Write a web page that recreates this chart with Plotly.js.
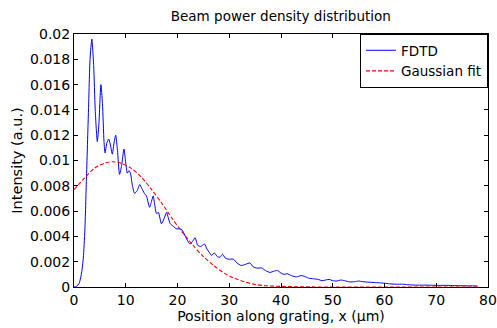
<!DOCTYPE html>
<html>
<head>
<meta charset="utf-8">
<script src="https://cdn.plot.ly/plotly-3.0.1.min.js"></script>
<style>
html,body{margin:0;padding:0;background:#fff;}
#chart{width:497px;height:328px;}
</style>
</head>
<body>
<div id="chart"></div>
<script>
// FDTD simulated beam power density
const fdtdX = [0,0.5,1.0,1.5,1.8,2.1,2.4,2.8,3.1,3.45,3.8,4.1,4.5,4.8,5.2,5.5,5.8,6.0,6.35,6.7,7.0,7.4,7.7,8.05,8.4,8.8,9.2,9.65,10.0,10.3,10.6,10.9,11.3,11.7,12.2,12.7,13.1,13.6,14.0,14.6,15.0,15.3,15.6,15.95,16.3,16.9,17.4,17.9,18.2,18.6,19.2,19.8,20.4,20.9,21.4,21.9,22.4,22.9,23.4,23.9,24.5,25.2,25.7,26.2,26.6,27.1,27.7,28.2,28.7,29.2,29.8,30.3,30.8,31.5,32.3,33.2,34.0,34.6,35.3,36.3,37.0,37.9,38.6,39.3,40.0,40.6,41.2,42.0,43.0,43.8,44.5,45.3,46.3,47.2,47.9,48.6,49.3,50.0,50.8,51.5,52.3,53.3,54.2,55.0,55.8,57.0,58.0,59.0,60.0,61.0,62.3,63.5,64.5,66.0,67.5,69.0,70.5,72.0,73.5,75.0,76.5,78.0];
const fdtdY = [0,0.00005,0.0003,0.0012,0.0023,0.0045,0.0085,0.0140,0.0180,0.0196,0.0175,0.0140,0.0115,0.0128,0.0160,0.0145,0.0115,0.0106,0.0114,0.0117,0.0113,0.0105,0.0113,0.0120,0.0108,0.0089,0.0096,0.0109,0.0098,0.0090,0.0092,0.0090,0.0080,0.0074,0.0076,0.0081,0.0078,0.0074,0.0072,0.0063,0.0068,0.0072,0.0065,0.0058,0.0059,0.0050,0.0054,0.0059,0.0055,0.0050,0.0048,0.0046,0.0046,0.0045,0.0041,0.0037,0.0034,0.0036,0.0039,0.0033,0.0032,0.0034,0.0030,0.0027,0.0025,0.0027,0.0024,0.00235,0.0026,0.0023,0.0022,0.0022,0.0022,0.0019,0.0017,0.0018,0.0019,0.0016,0.0015,0.0015,0.0013,0.00115,0.00125,0.0013,0.0011,0.0010,0.00105,0.0009,0.0008,0.0009,0.00085,0.0007,0.00065,0.0006,0.0005,0.00055,0.0006,0.0005,0.00047,0.00055,0.0005,0.0004,0.00042,0.00047,0.00042,0.00038,0.00035,0.00033,0.0003,0.00025,0.00022,0.00022,0.00018,0.00015,0.00015,0.00014,0.00013,0.00013,0.00011,0.0001,0.00009,0.00008];

// Gaussian fit
const fitX = [0,2,4,6,7.5,9,11,13,15,17,19,21,23,25,27,29,31,33,35,37,40,45,50,60,70,78];
const fitY = [0.0077,0.0086,0.0094,0.0098,0.0099,0.0098,0.0094,0.0087,0.0077,0.0066,0.0054,0.0043,0.0033,0.0024,0.0017,0.0011,0.0007,0.0004,0.0002,0.0001,0.00005,0.00001,0,0,0,0];

const seriesNames = ['FDTD','Gaussian fit'];
const chartTitle = 'Beam power density distribution';
const xTitle = 'Position along grating, x (\u03bcm)';
const yTitle = 'Intensity (a.u.)';

const FONT = 'DejaVu Sans, Verdana, sans-serif';

const traces = [
  {x: fdtdX, y: fdtdY, name: seriesNames[0], mode: 'lines', type: 'scatter',
   line: {color: '#0000ff', width: 1, shape: 'spline', smoothing: 0.6}},
  {x: fitX, y: fitY, name: seriesNames[1], mode: 'lines', type: 'scatter',
   line: {color: '#ff0000', width: 1.1, dash: '4px,2px', shape: 'spline', smoothing: 0.8}}
];

const axisCommon = {
  showline: true, linecolor: '#000', linewidth: 1, mirror: 'ticks',
  ticks: 'inside', ticklen: 4, tickcolor: '#000', tickwidth: 1,
  showgrid: false, zeroline: false,
  tickfont: {family: FONT, size: 14, color: '#000'}
};

const layout = {
  width: 497, height: 328,
  margin: {l: 74, r: 9, t: 34, b: 41, pad: 0},
  paper_bgcolor: '#fff', plot_bgcolor: '#fff',
  font: {family: FONT, size: 14, color: '#000'},
  title: {text: chartTitle, font: {family: FONT, size: 13.5, color: '#000'},
          x: 0.565, xanchor: 'center', y: 0.95, yanchor: 'middle'},
  xaxis: Object.assign({}, axisCommon, {
    range: [0, 80], dtick: 10, tick0: 0,
    title: {text: xTitle, font: {family: FONT, size: 14, color: '#000'}, standoff: 4}
  }),
  yaxis: Object.assign({}, axisCommon, {
    range: [0, 0.02], dtick: 0.002, tick0: 0,
    title: {text: yTitle, font: {family: FONT, size: 14.5, color: '#000'}, standoff: 4}
  }),
  showlegend: true,
  legend: {x: 1, xanchor: 'right', y: 1, yanchor: 'top',
           bgcolor: '#fff', bordercolor: '#000', borderwidth: 1,
           font: {family: FONT, size: 13.5, color: '#000'},
           itemwidth: 30, tracegroupgap: 0}
};

Plotly.newPlot('chart', traces, layout, {staticPlot: true, displayModeBar: false});
</script>
</body>
</html>
